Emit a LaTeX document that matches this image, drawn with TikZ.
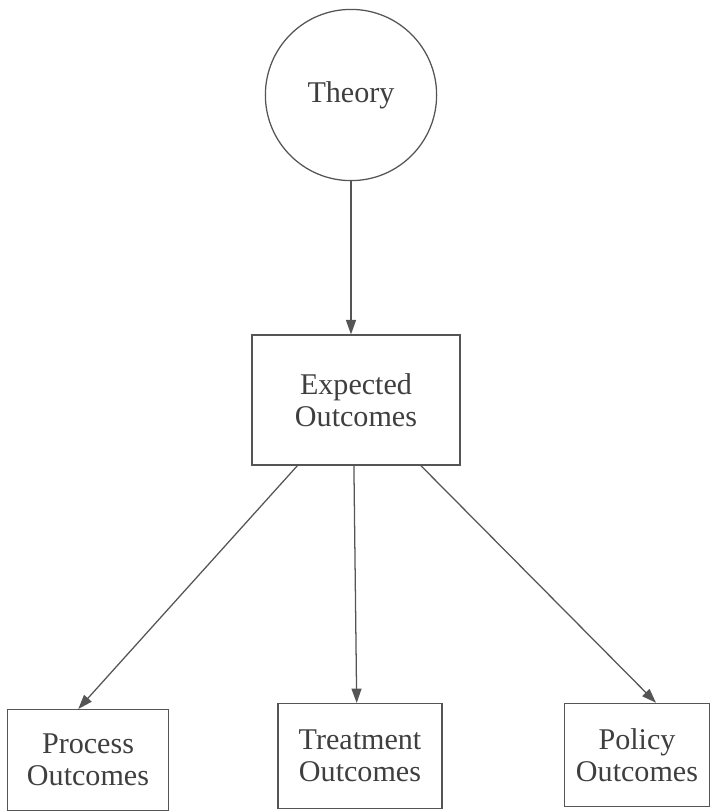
\documentclass[tikz,border=0pt]{standalone}
\usepackage{fontspec}
\setmainfont{Liberation Serif}
\usetikzlibrary{arrows.meta,positioning,shapes.geometric,calc}
\definecolor{ink}{HTML}{555555}
\definecolor{inktext}{HTML}{3F3F3F}
\tikzset{
  bubble/.style={circle,draw=ink,line width=0.9pt,minimum size=4.28cm,inner sep=0pt,text=inktext,font=\fontsize{21.4}{23}\selectfont},
  outbox/.style={rectangle,draw=ink,line width=0.9pt,align=center,inner sep=0pt,text=inktext,font=\fontsize{21.4}{23}\selectfont},
  arrow/.style={-{Triangle[length=3.6mm,width=2.5mm]},line width=0.9pt,ink}
}

\begin{document}
\begin{tikzpicture}[x=0.025cm,y=-0.025cm]
  \useasboundingbox (0,0) rectangle (718,812);
  % top and middle
  \node[bubble] (theory) at (351,95) {Theory};
  \node[outbox,minimum width=5.2cm,minimum height=3.25cm] (expected) at (356,400) {Expected\\Outcomes};
  % bottom row
  \node[outbox,minimum width=4.02cm,minimum height=2.52cm] (process) at (88,760) {Process\\Outcomes};
  \node[outbox,minimum width=4.1cm,minimum height=2.62cm] (treatment) at (360,756) {Treatment\\Outcomes};
  \node[outbox,minimum width=3.62cm,minimum height=2.58cm] (policy) at (637,755) {Policy\\Outcomes};

  \draw[arrow] (theory.south) -- (theory.south |- expected.north);
  \draw[arrow] ($(expected.south west)!0.22!(expected.south east)$) -- ($(process.north west)!0.44!(process.north east)$);
  \draw[arrow] ($(expected.south west)!0.49!(expected.south east)$) -- ($(treatment.north west)!0.48!(treatment.north east)$);
  \draw[arrow] ($(expected.south west)!0.81!(expected.south east)$) -- ($(policy.north west)!0.63!(policy.north east)$);
\end{tikzpicture}
\end{document}
